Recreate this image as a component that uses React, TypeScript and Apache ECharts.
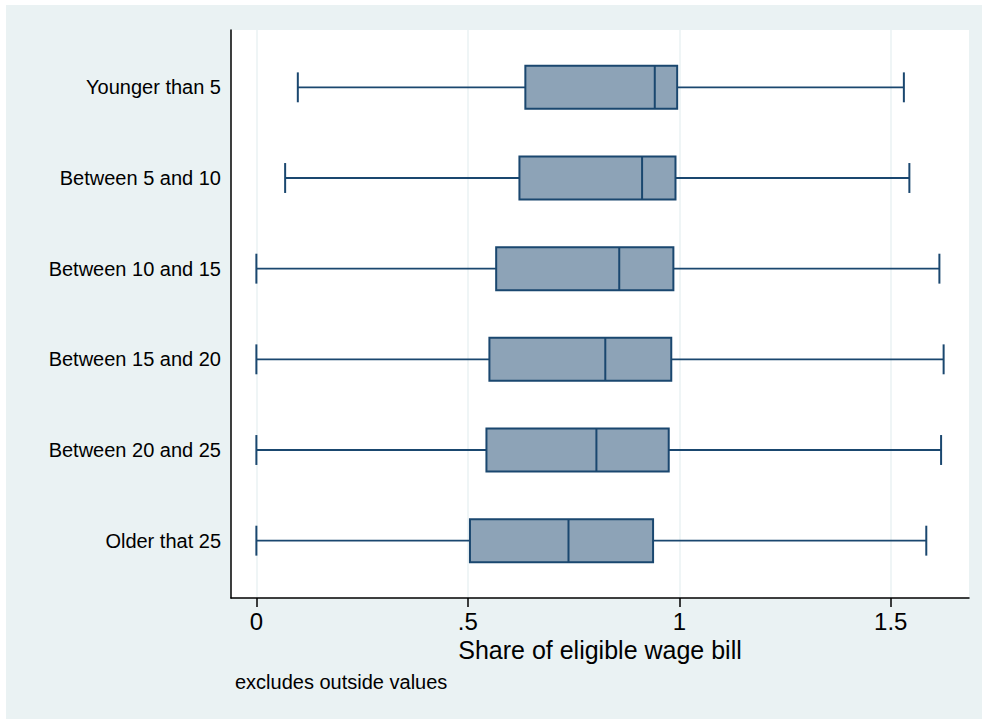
import React, { useEffect, useRef } from "react";
import * as echarts from "echarts";

// Age groups (top to bottom) and the box statistics for each one
const categories = [
  "Younger than 5",
  "Between 5 and 10",
  "Between 10 and 15",
  "Between 15 and 20",
  "Between 20 and 25",
  "Older that 25",
];
const lowerWhisker = [0.098, 0.068, 0, 0, 0, 0];
const lowerQuartile = [0.636, 0.622, 0.567, 0.551, 0.544, 0.505];
const medians = [0.942, 0.912, 0.858, 0.825, 0.804, 0.738];
const upperQuartile = [0.995, 0.991, 0.986, 0.981, 0.975, 0.938];
const upperWhisker = [1.531, 1.544, 1.615, 1.625, 1.619, 1.584];

const tickValues = [0, 0.5, 1, 1.5];
const tickLabels = ["0", ".5", "1", "1.5"];

const NAVY = "#1A476F";
const BOX_FILL = "#8DA3B7";
const REGION_BG = "#EAF2F3";
const FONT = "'Liberation Sans', Arial, Helvetica, sans-serif";

const X_MIN = -0.06;
const X_MAX = 1.685;

export default function App() {
  const ref = useRef<HTMLDivElement>(null);

  useEffect(() => {
    if (!ref.current) return;
    const chart = echarts.init(ref.current, undefined, { renderer: "svg" });

    const boxData = categories.map((_, i) => [
      i,
      lowerWhisker[i],
      lowerQuartile[i],
      medians[i],
      upperQuartile[i],
      upperWhisker[i],
    ]);

    const renderBox = (_params: any, api: any) => {
      const cat = api.value(0);
      const [xMin, y] = api.coord([api.value(1), cat]);
      const xQ1 = api.coord([api.value(2), cat])[0];
      const xMed = api.coord([api.value(3), cat])[0];
      const xQ3 = api.coord([api.value(4), cat])[0];
      const xMax = api.coord([api.value(5), cat])[0];
      const band = api.size([0, 1])[1];
      const boxH = band * 0.474;
      const capH = band * 0.33;
      const seg = (x1: number, y1: number, x2: number, y2: number, w = 1.8) => ({
        type: "line",
        shape: { x1, y1, x2, y2 },
        style: { stroke: NAVY, lineWidth: w },
      });
      return {
        type: "group",
        children: [
          seg(xMin, y, xQ1, y),
          seg(xQ3, y, xMax, y),
          seg(xMin, y - capH / 2, xMin, y + capH / 2, 2),
          seg(xMax, y - capH / 2, xMax, y + capH / 2, 2),
          {
            type: "rect",
            shape: { x: xQ1, y: y - boxH / 2, width: xQ3 - xQ1, height: boxH },
            style: { fill: BOX_FILL, stroke: NAVY, lineWidth: 2 },
          },
          seg(xMed, y - boxH / 2, xMed, y + boxH / 2, 2),
        ],
      };
    };

    chart.setOption({
      animation: false,
      backgroundColor: REGION_BG,
      textStyle: { fontFamily: FONT },
      graphic: [
        {
          type: "rect",
          shape: { x: 0, y: 0, width: 982, height: 5 },
          style: { fill: "#ffffff" },
          silent: true,
        },
        {
          type: "rect",
          shape: { x: 0, y: 0, width: 6, height: 719 },
          style: { fill: "#ffffff" },
          silent: true,
        },
      ],
      title: {
        text: "excludes outside values",
        left: 235,
        top: 672,
        padding: 0,
        textStyle: {
          fontSize: 20,
          fontWeight: "normal",
          color: "#000",
          fontFamily: FONT,
        },
      },
      grid: [
        {
          left: 231,
          top: 30,
          width: 738,
          height: 568,
          show: true,
          backgroundColor: "#ffffff",
          borderWidth: 0,
        },
        {
          left: 231,
          top: 42,
          width: 738,
          height: 544,
        },
      ],
      xAxis: [
        {
          type: "value",
          gridIndex: 0,
          min: X_MIN,
          max: X_MAX,
          name: "Share of eligible wage bill",
          nameLocation: "middle",
          nameGap: 36,
          nameTextStyle: { fontSize: 25, color: "#000", fontFamily: FONT },
          axisLine: { show: true, onZero: false, lineStyle: { color: "#000", width: 1.5 } },
          axisTick: {
            show: true,
            length: 9,
            customValues: tickValues,
            lineStyle: { color: "#000", width: 1.5 },
          },
          axisLabel: {
            customValues: tickValues,
            formatter: (v: number) => {
              const k = tickValues.indexOf(v);
              return k >= 0 ? tickLabels[k] : "";
            },
            fontSize: 24,
            margin: 11,
            color: "#000",
            fontFamily: FONT,
          },
          splitLine: { show: true, lineStyle: { color: REGION_BG, width: 1.5 } },
        },
        {
          type: "value",
          gridIndex: 1,
          min: X_MIN,
          max: X_MAX,
          show: false,
        },
      ],
      yAxis: [
        {
          type: "value",
          gridIndex: 0,
          min: 0,
          max: 1,
          axisLine: { show: true, onZero: false, lineStyle: { color: "#000", width: 1.5 } },
          axisTick: { show: false },
          axisLabel: { show: false },
          splitLine: { show: false },
        },
        {
          type: "category",
          gridIndex: 1,
          data: categories,
          inverse: true,
          axisLine: { show: false, onZero: false },
          axisTick: { show: false },
          splitLine: { show: false },
          axisLabel: {
            fontSize: 20,
            color: "#000",
            margin: 10,
            fontFamily: FONT,
          },
        },
      ],
      series: [
        {
          type: "custom",
          xAxisIndex: 1,
          yAxisIndex: 1,
          data: boxData,
          encode: { x: [1, 2, 3, 4, 5], y: 0 },
          renderItem: renderBox,
          clip: false,
        },
      ],
    });

    return () => chart.dispose();
  }, []);

  return (
    <div
      ref={ref}
      style={{ position: "absolute", left: 0, top: 0, width: 982, height: 719 }}
    />
  );
}
